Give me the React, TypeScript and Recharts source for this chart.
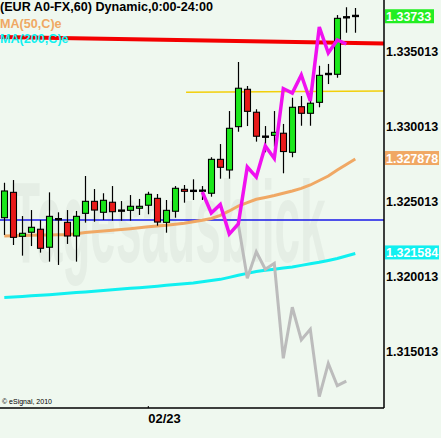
import React from 'react';
import { ComposedChart, Bar, Line, XAxis, YAxis, ReferenceLine } from 'recharts';

// ---- data ----
const candleIndex = [0,1,2,3,4,5,6,7,8,9,10,11,12,13,14,15,16,17,18,19,20,21,22,23,24,25,26,27,28,29,30,31,32,33,34,35,36,37,38,39];
const opens = [1.32390,1.32559,1.32266,1.32293,1.32313,1.32193,1.32380,1.32359,1.32268,1.32419,1.32499,1.32426,1.32493,1.32437,1.32439,1.32453,1.32473,1.32519,1.32359,1.32433,1.32579,1.32569,1.32570,1.32553,1.32779,1.32708,1.32997,1.33246,1.33093,1.32930,1.32939,1.32953,1.32826,1.33130,1.33086,1.33159,1.33348,1.33346,1.33726,1.33735];
const highs = [1.32623,1.32641,1.32401,1.32441,1.32375,1.32559,1.32426,1.32441,1.32435,1.32668,1.32581,1.32553,1.32601,1.32501,1.32541,1.32515,1.32563,1.32548,1.32508,1.32601,1.32608,1.32646,1.32601,1.32793,1.32881,1.33101,1.33428,1.33268,1.33113,1.33001,1.33101,1.33015,1.33190,1.33201,1.33246,1.33403,1.33415,1.33741,1.33793,1.33788];
const lows = [1.32275,1.32208,1.32137,1.32201,1.32157,1.32097,1.32075,1.32215,1.32097,1.32357,1.32363,1.32375,1.32370,1.32370,1.32370,1.32408,1.32413,1.32337,1.32290,1.32390,1.32490,1.32508,1.32508,1.32530,1.32650,1.32650,1.32963,1.33001,1.32897,1.32826,1.32863,1.32686,1.32793,1.33003,1.33003,1.33126,1.33281,1.33323,1.33623,1.33623];
const closes = [1.32568,1.32259,1.32286,1.32326,1.32186,1.32399,1.32379,1.32268,1.32399,1.32499,1.32441,1.32506,1.32430,1.32437,1.32466,1.32466,1.32546,1.32361,1.32439,1.32586,1.32566,1.32569,1.32570,1.32779,1.32726,1.32986,1.33253,1.33099,1.32933,1.32930,1.32959,1.32831,1.33126,1.33086,1.33153,1.33339,1.33348,1.33719,1.33726,1.33735];
const ma50 = [1.32268,1.32269,1.32271,1.32273,1.32274,1.32275,1.32276,1.32277,1.32283,1.32291,1.32296,1.32301,1.32307,1.32312,1.32317,1.32323,1.32329,1.32334,1.32339,1.32346,1.32353,1.32363,1.32373,1.32385,1.32405,1.32435,1.32468,1.32491,1.32513,1.32525,1.32538,1.32553,1.32568,1.32585,1.32608,1.32638,1.32668,1.32708,1.32745,1.32781];
const ma200 = [1.31858,1.31861,1.31865,1.31869,1.31873,1.31877,1.31881,1.31886,1.31891,1.31895,1.31900,1.31905,1.31909,1.31914,1.31919,1.31923,1.31928,1.31933,1.31939,1.31944,1.31949,1.31955,1.31963,1.31971,1.31979,1.31992,1.32006,1.32019,1.32031,1.32039,1.32047,1.32055,1.32062,1.32072,1.32083,1.32093,1.32105,1.32118,1.32135,1.32151];
const bullPath = [null,null,null,null,null,null,null,null,null,null,null,null,null,null,null,null,null,null,null,null,null,null,1.32561,1.32421,1.32478,1.32281,1.32348,1.32728,1.32661,1.32868,1.32785,1.33251,1.33221,1.33341,1.33168,1.33661,1.33488,1.33575,1.33548,null];
const bearPath = [null,null,null,null,null,null,null,null,null,null,null,null,null,null,null,null,null,null,null,null,null,null,null,null,null,null,1.32348,1.31986,1.32163,1.32046,1.32086,1.31453,1.31793,1.31575,1.31646,1.31197,1.31419,1.31270,1.31301,null];

const resistanceX = [-0.478, 42.19];
const resistanceY = [1.33595, 1.33551];
const pivotX = [20.2, 42.19];
const pivotY = [1.33226, 1.33235];
const supportLevel = 1.32375;

const xDomain = [-0.478, 42.19];
const yDomain = [1.311213, 1.338413];
const yTicks = [1.315013, 1.320013, 1.325013, 1.330013, 1.335013];
const xTicks = [16];
const xTickLabels = ['02/23'];

const lastPrice = 1.33733;
const ma50Last = 1.327878;
const ma200Last = 1.321584;

const data = candleIndex.map((i, k) => ({
  i,
  open: opens[k],
  high: highs[k],
  low: lows[k],
  close: closes[k],
  ma50: ma50[k],
  ma200: ma200[k],
  bull: bullPath[k],
  bear: bearPath[k],
}));

const FONT = '"Liberation Sans", Arial, sans-serif';

const noDot = (p: any) => <g key={`nd-${p.index}`} />;

const Candle = (props: any) => {
  const { x, y, width, height, payload } = props;
  if (x == null || y == null) return null;
  const { open, close, high, low } = payload;
  const top = Math.min(y, y + height);
  const h = Math.abs(height);
  const k = high - low > 0 ? h / (high - low) : 0;
  const py = (v: number) => top + (high - v) * k;
  const cx = Math.round(x + width / 2) + 0.5;
  const yo = py(open);
  const yc = py(close);
  const doji = Math.abs(close - open) < 0.00003;
  return (
    <g>
      <line x1={cx} x2={cx} y1={top} y2={top + h} stroke="#000" strokeWidth={1.2} />
      {doji ? (
        <rect x={cx - 3.5} y={yo - 1.2} width={7} height={2.4} fill="#000" />
      ) : (
        <rect
          x={cx - 3}
          y={Math.min(yo, yc)}
          width={6}
          height={Math.max(1, Math.abs(yc - yo))}
          fill={close > open ? '#1be81b' : '#e81a1a'}
          stroke="#000"
          strokeWidth={1.1}
        />
      )}
    </g>
  );
};

const YTick = (props: any) => {
  const { x, y, payload } = props;
  return (
    <text x={x + 2} y={y} dy={4.5} fontFamily={FONT} fontWeight="bold" fontSize={12.5} fill="#000" textAnchor="start">
      {payload.value.toFixed(6)}
    </text>
  );
};

const XTick = (props: any) => {
  const { x, y, payload, index } = props;
  const k = xTicks.indexOf(payload.value);
  return (
    <g>
      <line x1={x} x2={x} y1={y - 2} y2={y} stroke="#000" strokeWidth={1} />
      <text x={x} y={y} dy={15} fontFamily={FONT} fontWeight="bold" fontSize={13} fill="#000" textAnchor="start">
        {xTickLabels[k >= 0 ? k : index]}
      </text>
    </g>
  );
};

const PriceTag = (props: any) => {
  const { viewBox, text, fill, boxWidth } = props;
  if (!viewBox) return null;
  const bx = viewBox.x + viewBox.width + 1;
  const by = viewBox.y;
  return (
    <g>
      <rect x={bx} y={by - 7} width={boxWidth} height={14} fill={fill} />
      <text x={bx + 1} y={by} dy={4.5} fontFamily={FONT} fontWeight="bold" fontSize={12.5} fill="#fff" textAnchor="start">
        {text}
      </text>
    </g>
  );
};

export default function App() {
  return (
    <div style={{ position: 'relative', width: 441, height: 438, background: '#eff8ef', overflow: 'hidden' }}>
      <style>{`body{margin:0;background:#eff8ef}`}</style>
      <svg width={441} height={438} style={{ position: 'absolute', left: 0, top: 0 }}>
        <g transform="translate(12 262) scale(1 2.5)">
          <text x={0} y={0} fontFamily={FONT} fontWeight="bold" fontSize={46} fill="#e5eee5">
            Tagesausblick
          </text>
        </g>
      </svg>
      <ComposedChart width={441} height={438} data={data} margin={{ top: 0, right: 0, bottom: 0, left: 0 }}>
        <XAxis
          dataKey="i"
          type="number"
          domain={xDomain}
          ticks={xTicks}
          interval={0}
          tick={<XTick />}
          tickLine={false}
          tickSize={0}
          tickMargin={0}
          axisLine={{ stroke: '#000', strokeWidth: 1.5 }}
          height={30}
          allowDataOverflow
        />
        <YAxis
          orientation="right"
          type="number"
          domain={yDomain}
          ticks={yTicks}
          interval={0}
          tick={<YTick />}
          tickLine={false}
          tickSize={0}
          tickMargin={0}
          axisLine={{ stroke: '#000', strokeWidth: 1.5 }}
          width={57}
          allowDataOverflow
        />
        <ReferenceLine y={supportLevel} stroke="#1818e8" strokeWidth={1.5} zIndex={100} />
        <ReferenceLine
          segment={[{ x: pivotX[0], y: pivotY[0] }, { x: pivotX[1], y: pivotY[1] }]}
          stroke="#f2cf0a"
          strokeWidth={1.5}
          ifOverflow="visible"
          zIndex={100}
        />
        <ReferenceLine
          segment={[{ x: resistanceX[0], y: resistanceY[0] }, { x: resistanceX[1], y: resistanceY[1] }]}
          stroke="#f40000"
          strokeWidth={4}
          ifOverflow="visible"
          zIndex={100}
        />
        <Line dataKey="ma50" stroke="#f0a864" strokeWidth={3} dot={noDot} activeDot={false} isAnimationActive={false} zIndex={200} />
        <Line dataKey="ma200" stroke="#10f0f0" strokeWidth={3} dot={noDot} activeDot={false} isAnimationActive={false} zIndex={200} />
        <Bar dataKey={(d: any) => [d.low, d.high]} barSize={7} shape={<Candle />} isAnimationActive={false} zIndex={300} />
        <Line dataKey="bear" stroke="#bcbcbc" strokeWidth={3} dot={noDot} activeDot={false} isAnimationActive={false} zIndex={400} />
        <Line dataKey="bull" stroke="#f010f0" strokeWidth={3.5} dot={noDot} activeDot={false} isAnimationActive={false} zIndex={400} />
        <ReferenceLine y={lastPrice} strokeOpacity={0} ifOverflow="visible" label={<PriceTag text="1.33733" fill="#22ee22" boxWidth={49} />} />
        <ReferenceLine y={ma50Last} strokeOpacity={0} ifOverflow="visible" label={<PriceTag text="1.327878" fill="#f0a864" boxWidth={54} />} />
        <ReferenceLine y={ma200Last} strokeOpacity={0} ifOverflow="visible" label={<PriceTag text="1.321584" fill="#10f0f0" boxWidth={54} />} />
      </ComposedChart>
      <svg width={441} height={438} style={{ position: 'absolute', left: 0, top: 0, pointerEvents: 'none' }}>
        <text x={0} y={11} fontFamily={FONT} fontWeight="bold" fontSize={12.6} fill="#000">(EUR A0-FX,60) Dynamic,0:00-24:00</text>
        <text x={0} y={27.5} fontFamily={FONT} fontWeight="bold" fontSize={12.6} fill="#f0a864">MA(50,C)e</text>
        <text x={0} y={43} fontFamily={FONT} fontWeight="bold" fontSize={12.6} fill="#10f0f0">MA(200,C)e</text>
        <text x={2} y={404} fontFamily={FONT} fontSize={7} fill="#000">© eSignal, 2010</text>
      </svg>
    </div>
  );
}
